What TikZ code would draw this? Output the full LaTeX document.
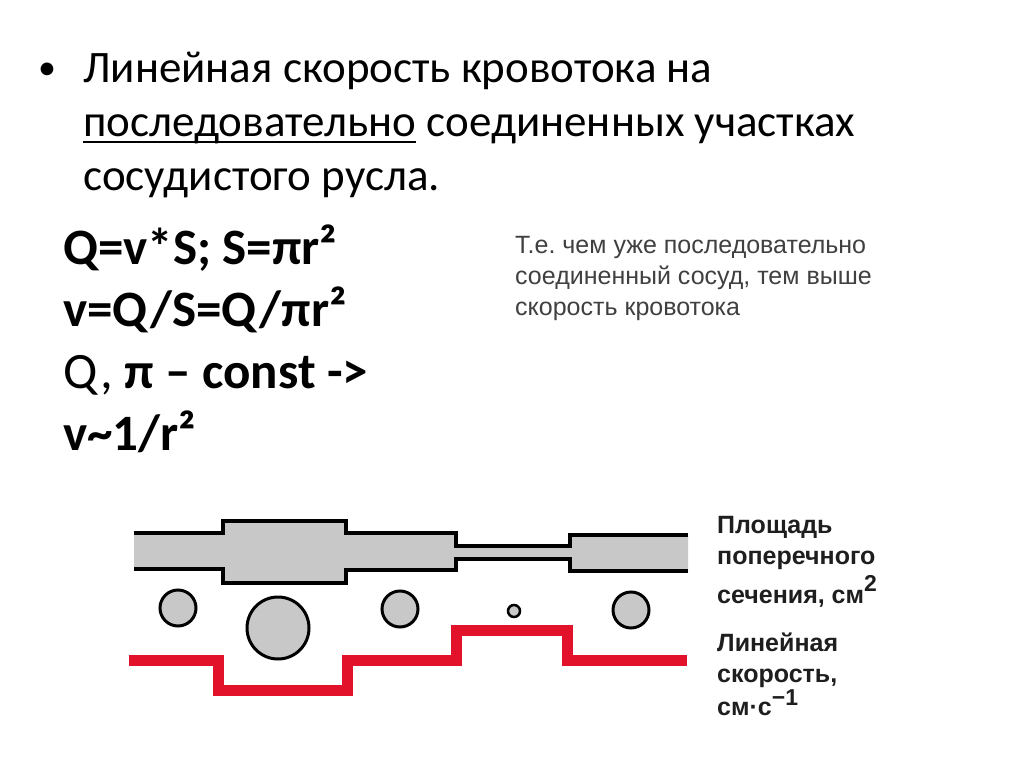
\documentclass[tikz,border=0pt]{standalone}
\usepackage{fontspec}
\setmainfont{Carlito}
\newfontfamily\notefont{Liberation Sans}
\newfontfamily\lblfont{Liberation Sans}
\frenchspacing
\definecolor{vesselgray}{RGB}{200,200,200}
\definecolor{velred}{RGB}{226,18,42}
\definecolor{notegray}{RGB}{64,64,64}
\definecolor{lblgray}{RGB}{30,30,30}
\tikzset{
  txt/.style={anchor=base west, inner sep=0pt},
  title/.style={txt, font=\fontsize{45}{54}\selectfont, text=black},
  formula/.style={txt, font=\fontsize{51}{62}\selectfont, text=black},
  note/.style={txt, font=\notefont\fontsize{25}{31}\selectfont, text=notegray},
  lbl/.style={txt, font=\lblfont\bfseries\fontsize{25}{31}\selectfont, text=lblgray},
  vesselline/.style={line width=4pt, line join=miter},
  crosssec/.style={draw=black, line width=3pt, fill=vesselgray, circle, inner sep=0pt},
  velline/.style={draw=velred, line width=11pt, line join=miter},
  uline/.style={draw=black, line width=2pt}
}
\newcommand{\lblsup}[2]{\raisebox{#1}{\fontsize{23}{23}\selectfont #2}}
\begin{document}
\begin{tikzpicture}[x=1pt,y=-1pt]
\useasboundingbox (0,0) rectangle (1024,767);
\fill[white] (0,0) rectangle (1024,767);

% title with bullet
\node[txt, font=\fontsize{36}{36}\selectfont] (bul) at (38,80) {•};
\node[title] (t1) at (83,83) {Линейная скорость кровотока на};
\node[title] (t2a) at (83,137) {последовательно};
\node[title, xshift=10pt] (t2b) at (t2a.base east) {соединенных участках};
\node[title] (t3) at (83,191) {сосудистого русла.};
\draw[uline] ([yshift=-5pt]t2a.base west) -- ([yshift=-5pt]t2a.base east);

% formulas
\node[formula] (f1) at (63,264) {\textbf{Q=v*S; S=πr²}};
\node[formula] (f2) at (63,326) {\textbf{v=Q/S=Q/πr²}};
\node[formula] (f3) at (63,388) {Q, \textbf{π – const ->}};
\node[formula] (f4) at (63,450) {\textbf{v\char`\~1/r²}};

% note
\node[note] (n1) at (515,253) {Т.е. чем уже последовательно};
\node[note] (n2) at (515,284) {соединенный сосуд, тем выше};
\node[note] (n3) at (515,315) {скорость кровотока};

% vessel
\fill[vesselgray] (134,533) -- (223,533) -- (223,521) -- (346,521) -- (346,533)
  -- (456,533) -- (456,546) -- (570,546) -- (570,535) -- (688,535)
  -- (688,571) -- (570,571) -- (570,559) -- (456,559) -- (456,570)
  -- (346,570) -- (346,583) -- (223,583) -- (223,569) -- (134,569) -- cycle;
\draw[vesselline] (134,533) -- (223,533) -- (223,521) -- (346,521) -- (346,533)
  -- (456,533) -- (456,546) -- (570,546) -- (570,535) -- (688,535);
\draw[vesselline] (134,569) -- (223,569) -- (223,583) -- (346,583) -- (346,570)
  -- (456,570) -- (456,559) -- (570,559) -- (570,571) -- (688,571);

% cross sections
\node[crosssec, minimum size=36pt] (c1) at (178,608) {};
\node[crosssec, minimum size=62pt] (c2) at (278,628) {};
\node[crosssec, minimum size=36pt] (c3) at (400,609) {};
\node[crosssec, minimum size=12pt, line width=2.5pt] (c4) at (514,611) {};
\node[crosssec, minimum size=36pt] (c5) at (631,610) {};

% velocity
\draw[velline] (129,660) -- (218,660) -- (218,690) -- (347,690) -- (347,660)
  -- (456,660) -- (456,630) -- (567,630) -- (567,660) -- (687,660);

% labels
\node[lbl] (l1) at (717,533) {Площадь};
\node[lbl] (l2) at (717,564) {поперечного};
\node[lbl] (l3) at (717,603) {сечения, см\lblsup{12pt}{2}};
\node[lbl] (l4) at (717,651) {Линейная};
\node[lbl] (l5) at (717,682) {скорость,};
\node[lbl] (l6) at (717,715) {см·с\lblsup{10pt}{−1}};
\end{tikzpicture}
\end{document}
